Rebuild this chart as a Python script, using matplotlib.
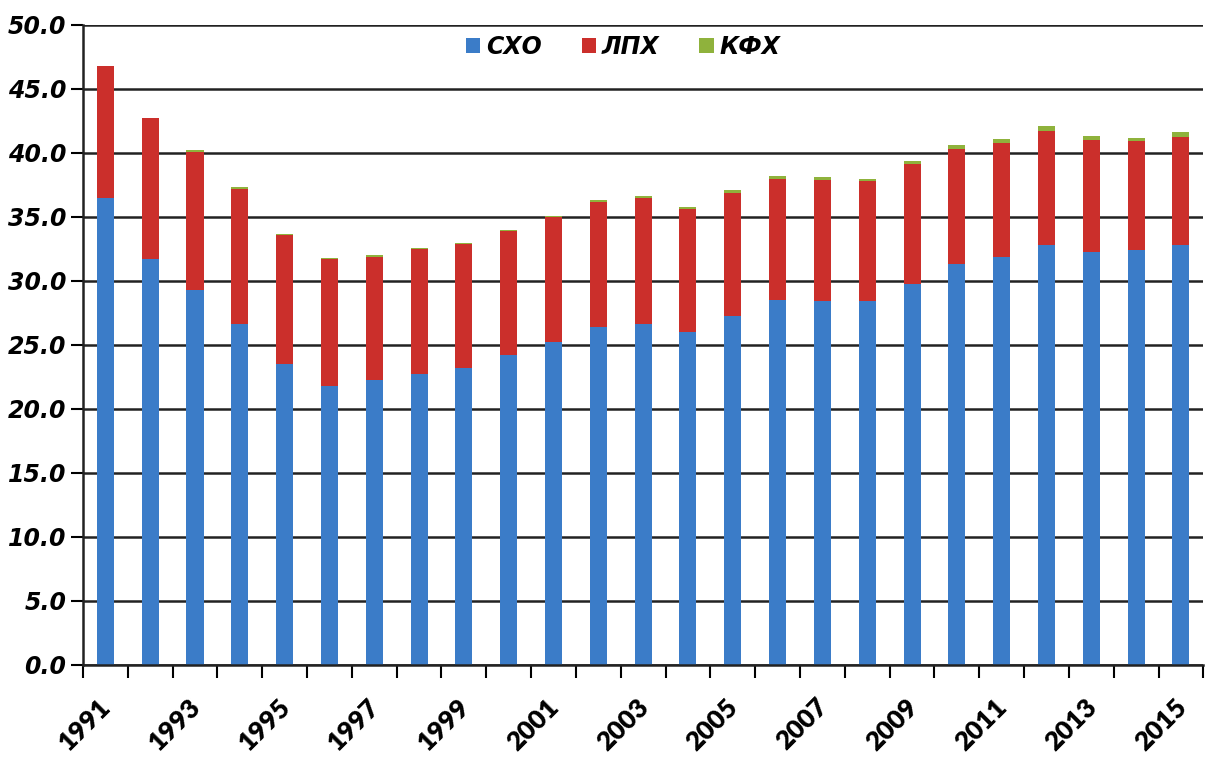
import matplotlib
matplotlib.use('Agg')
import matplotlib.pyplot as plt
import matplotlib.transforms as mtransforms
import numpy as np

years = list(range(1991, 2016))

# СХО (blue), ЛПХ (red), КФХ (green)
skho = [36.5, 31.7, 29.3, 26.6, 23.5, 21.8, 22.3, 22.7, 23.2, 24.2,
        25.2, 26.4, 26.6, 26.0, 27.3, 28.5, 28.4, 28.4, 29.8, 31.3,
        31.9, 32.8, 32.3, 32.4, 32.8]
lph = [10.3, 11.0, 10.8, 10.6, 10.1, 9.9, 9.6, 9.8, 9.7, 9.7,
       9.8, 9.75, 9.85, 9.65, 9.6, 9.5, 9.5, 9.4, 9.35, 9.0,
       8.9, 8.95, 8.7, 8.5, 8.45]
kfh = [0.0, 0.05, 0.1, 0.1, 0.1, 0.1, 0.1, 0.1, 0.1, 0.1,
       0.1, 0.15, 0.15, 0.15, 0.2, 0.2, 0.2, 0.2, 0.25, 0.3,
       0.3, 0.35, 0.3, 0.3, 0.35]
series_names = ['СХО', 'ЛПХ', 'КФХ']
y_ticks = np.arange(0, 50.1, 5)

blue = '#3b7cc8'
red = '#cb2f2b'
green = '#8fb23c'

plt.rcParams['font.family'] = ['DejaVu Sans']

fig = plt.figure(figsize=(12.06, 7.62), dpi=100)
ax = fig.add_axes([0.0688, 0.1273, 0.929, 0.84])

x = np.arange(len(years))
skho = np.array(skho)
lph = np.array(lph)
kfh = np.array(kfh)
w = 0.38
ax.bar(x, skho, w, color=blue, label=series_names[0], zorder=3)
ax.bar(x, lph, w, bottom=skho, color=red, label=series_names[1], zorder=3)
ax.bar(x, kfh, w, bottom=skho + lph, color=green, label=series_names[2], zorder=3)

ax.set_xlim(-0.5, len(years) - 0.5)
ax.set_ylim(0, 50)

# grid
ax.set_yticks(y_ticks)
ax.set_yticklabels([f'{v:.1f}' for v in y_ticks], fontsize=17,
                   fontweight='bold', fontstyle='italic')
ax.yaxis.grid(True, color='#222222', linewidth=1.8, zorder=0)
ax.tick_params(axis='y', length=9, width=1.5, pad=3, direction='out')

# x ticks: marks between bars, labels every other year
ax.set_xticks(x[::2])
ax.set_xticklabels([str(y) for y in years[::2]], rotation=45, ha='right',
                   va='top', rotation_mode='anchor', fontsize=19,
                   fontweight='heavy', family=['Lato', 'DejaVu Sans'])
ax.tick_params(axis='x', which='major', length=0, pad=21)
ax.set_xticks(np.arange(-0.5, len(years)), minor=True)
ax.tick_params(axis='x', which='minor', length=9, width=1.5, direction='out')
shift = mtransforms.ScaledTranslation(-7 / 100, 0, fig.dpi_scale_trans)
for lbl in ax.get_xticklabels():
    lbl.set_transform(lbl.get_transform() + shift)

for s in ['top', 'right']:
    ax.spines[s].set_visible(False)
for s in ['left', 'bottom']:
    ax.spines[s].set_linewidth(1.8)
    ax.spines[s].set_color('#222222')
    ax.spines[s].set_zorder(4)

leg = ax.legend(loc='center', bbox_to_anchor=(0.482, 0.966), ncol=3, frameon=False,
                handlelength=0.6, handleheight=0.6, handletextpad=0.25,
                columnspacing=1.7, prop={'size': 17, 'weight': 'bold', 'style': 'italic'})

fig.savefig('out.png', dpi=100, facecolor='white')
